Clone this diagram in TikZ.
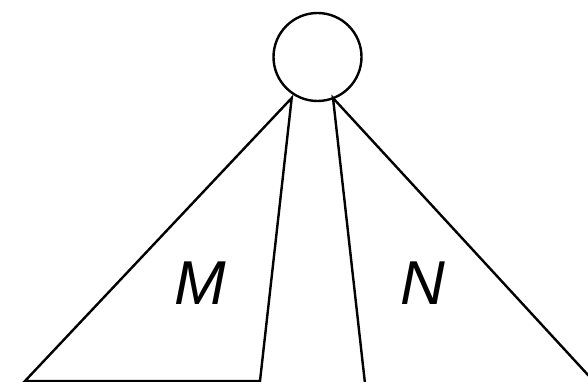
\documentclass[tikz,border=0pt]{standalone}
\usepackage{fontspec}
\setmainfont{Liberation Sans}
\usetikzlibrary{positioning, calc}

\begin{document}
\begin{tikzpicture}[
  x=1pt, y=-1pt,
  ln/.style={line width=2.4pt, line join=miter},
  rootnode/.style={draw, circle, line width=2.4pt, minimum size=88pt, inner sep=0pt},
  lbl/.style={font=\fontsize{62}{62}\selectfont\itshape, inner sep=0pt},
]
  \useasboundingbox (0,0) rectangle (588,382);
  \clip (0,0) rectangle (588,382);

  \node[rootnode] (root) at (317.5,57) {};
  \coordinate (ml) at (291.7,98);
  \coordinate (nr) at (333,98);
  \coordinate (mbl) at (25,381);
  \coordinate (mbr) at (260,381);
  \coordinate (nbl) at (365.5,388);
  \coordinate (nbr) at (600,388);

  % subtrees
  \draw[ln] (ml) -- (mbl) -- (mbr) -- cycle;
  \draw[ln] (nr) -- (nbl) -- (nbr) -- cycle;

  \node[lbl] (m) at (200,283) {M};
  \node[lbl] (n) at (423,283) {N};
\end{tikzpicture}
\end{document}
